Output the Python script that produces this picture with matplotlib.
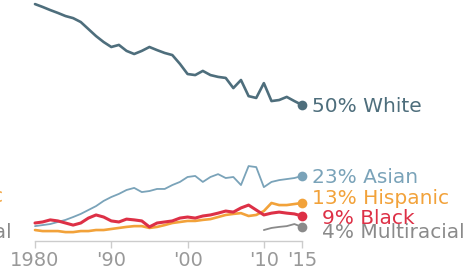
import matplotlib
matplotlib.use("Agg")
import matplotlib.pyplot as plt

years = list(range(1980, 2016))

white = [89.2, 88.1, 86.9, 85.8, 84.6, 83.8, 82.3, 79.6, 76.9, 74.6,
         72.7, 73.5, 71.2, 70.0, 71.2, 72.7, 71.5, 70.4, 69.6, 66.2,
         62.3, 61.9, 63.5, 61.9, 61.2, 60.8, 56.9, 60.0, 53.8, 53.1,
         58.8, 51.9, 52.3, 53.5, 51.9, 50.4]
asian = [3.8, 4.2, 4.6, 5.4, 6.2, 7.3, 8.5, 10.0, 11.5, 13.5,
         15.0, 16.2, 17.7, 18.5, 16.9, 17.3, 18.1, 18.1, 19.6, 20.8,
         22.7, 23.1, 20.8, 22.7, 23.8, 22.3, 22.7, 19.6, 26.9, 26.5,
         18.8, 20.8, 21.5, 21.9, 22.3, 23.1]
hispanic = [2.3, 1.9, 1.9, 1.9, 1.5, 1.5, 1.9, 1.9, 2.3, 2.3,
            2.7, 3.1, 3.5, 3.8, 3.8, 3.1, 3.5, 4.2, 5.0, 5.4,
            5.8, 5.8, 6.2, 6.5, 7.3, 8.1, 8.5, 8.8, 7.7, 8.1,
            9.6, 12.7, 11.9, 11.9, 12.3, 12.7]
black = [5.0, 5.4, 6.2, 5.8, 5.0, 4.2, 5.0, 6.9, 8.1, 7.3,
         5.8, 5.4, 6.5, 6.2, 5.8, 3.5, 5.0, 5.4, 5.8, 6.9,
         7.3, 6.9, 7.7, 8.1, 8.8, 9.6, 9.2, 10.8, 11.9, 10.0,
         8.1, 8.8, 9.2, 8.8, 8.5, 7.7]
multi_years = list(range(2010, 2016))
multiracial = [2.3, 3.1, 3.5, 3.8, 4.6, 3.5]

labels = ["50% White", "23% Asian", "13% Hispanic", "9% Black", "4% Multiracial"]
tick_years = [1980, 1990, 2000, 2010, 2015]
tick_labels = ["1980", "'90", "'00", "'10", "'15"]

colors = ["#4e6e7c", "#7aa3b9", "#f2a23a", "#dd3046", "#8a8a8a"]

fig = plt.figure(figsize=(4.68, 2.72), dpi=100)
ax = fig.add_axes([35 / 468, 0.1132, 267 / 468, 0.8794])

series = [(years, white), (years, asian), (years, hispanic),
          (years, black), (multi_years, multiracial)]
widths = [1.9, 1.3, 1.9, 2.2, 1.3]
for i, (xs, ys) in enumerate(series):
    ax.plot(xs, ys, color=colors[i], lw=widths[i], solid_joinstyle="round",
            solid_capstyle="round", clip_on=False, zorder=2 + i)
    ax.plot(xs[-1], ys[-1], "o", color=colors[i], ms=7, mec="none",
            clip_on=False, zorder=10)

# label offsets in points (dx, dy) from the end dots
offsets = [(7.2, -5.3), (7.2, -5.3), (7.2, -1.0), (14.4, -5.6), (14.4, -8.0)]
for i, (xs, ys) in enumerate(series):
    ax.annotate(labels[i], xy=(xs[-1], ys[-1]), xytext=offsets[i],
                textcoords="offset points", ha="left", va="baseline",
                fontsize=14.5, color=colors[i], annotation_clip=False)

ax.set_xlim(1980, 2015)
ax.set_ylim(-2, 90)
ax.set_xticks(tick_years)
ax.set_xticklabels(tick_labels)
ax.set_yticks([])
for s in ["top", "right", "left"]:
    ax.spines[s].set_visible(False)
ax.spines["bottom"].set_color("#cccccc")
ax.spines["bottom"].set_linewidth(1.0)
ax.tick_params(axis="x", length=5, width=1, color="#cccccc",
               labelcolor="#999999", labelsize=14, pad=2)
ax.patch.set_alpha(0)

# cut-off labels from the neighbouring panel
fig.text(12 / 468, 1 - 233 / 272, "4% Multiracial", ha="right", va="center",
         fontsize=14.5, color="#8a8a8a")
fig.text(3 / 468, 1 - 196 / 272, "13% Hispanic", ha="right", va="center",
         fontsize=14.5, color="#f2a23a")

fig.savefig("out.png", dpi=100)
